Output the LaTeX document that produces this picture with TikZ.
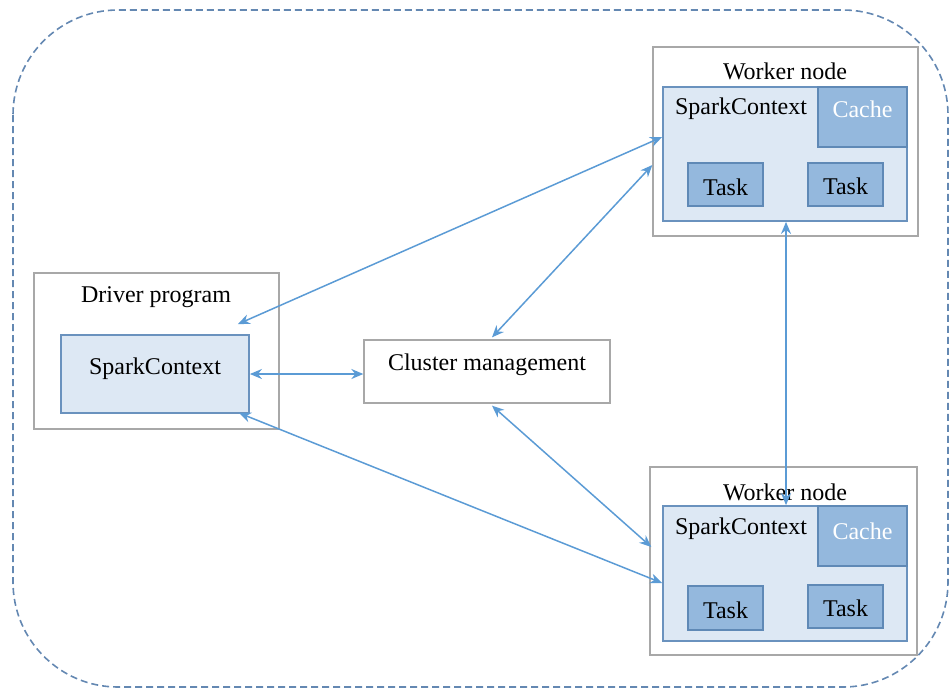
\documentclass[tikz,border=0pt]{standalone}
\usepackage{fontspec}
\setmainfont{Liberation Serif}
\usetikzlibrary{arrows.meta,calc}
\definecolor{arrowblue}{HTML}{5B9BD5}
\definecolor{innerfill}{HTML}{DDE8F4}
\definecolor{innerdraw}{HTML}{6A92BE}
\definecolor{darkfill}{HTML}{94B8DD}
\definecolor{darkdraw}{HTML}{5F89B6}
\definecolor{outerdraw}{HTML}{A8A8A8}
\definecolor{dashdraw}{HTML}{6488B2}
\tikzset{
  outerbox/.style={draw=outerdraw, line width=1.3pt, fill=white, inner sep=0pt},
  innerbox/.style={draw=innerdraw, line width=1.8pt, fill=innerfill, inner sep=0pt},
  darkbox/.style={draw=darkdraw, line width=1.5pt, fill=darkfill, inner sep=0pt},
  txt/.style={font=\fontsize{24}{28}\selectfont, inner sep=0pt, text=black},
  wtxt/.style={font=\fontsize{24}{28}\selectfont, inner sep=0pt, text=white},
  conn/.style={draw=arrowblue, line width=1.5pt, {Stealth[length=12pt,width=10pt]}-{Stealth[length=12pt,width=10pt]}}
}
\begin{document}
\begin{tikzpicture}[x=1pt,y=-1pt]
\useasboundingbox (0,0) rectangle (949,689);
\draw[dashdraw, line width=1.6pt, dash pattern=on 7pt off 4pt, rounded corners=105pt] (13,10) rectangle (948,687);

% Driver
\node[outerbox, minimum width=245pt, minimum height=156pt] (drvOut) at (156.5,351) {};
\node[innerbox, minimum width=188pt, minimum height=78pt] (drvIn) at (155,374) {};
\node[txt] (drvLbl) at (156,297) {Driver program};
\node[txt] (drvSC) at (155,369) {SparkContext};

% Cluster
\node[outerbox, minimum width=246pt, minimum height=63pt] (clu) at (487,371.5) {};
\node[txt] (cluLbl) at (487,365) {Cluster management};

% Worker top
\node[outerbox, minimum width=265pt, minimum height=189pt] (w1Out) at (785.5,141.5) {};
\node[innerbox, minimum width=244pt, minimum height=134pt] (w1In) at (785,154) {};
\node[darkbox, minimum width=89pt, minimum height=60pt] (w1Cache) at (862.5,117) {};
\node[darkbox, minimum width=75pt, minimum height=43pt] (w1T1) at (725.5,184.5) {};
\node[darkbox, minimum width=75pt, minimum height=43pt] (w1T2) at (845.5,184.5) {};
\node[txt] (w1Lbl) at (785,71) {Worker node};
\node[txt] (w1SC) at (741,109) {SparkContext};
\node[wtxt] (w1CacheL) at (862.5,109) {Cache};
\node[txt] (w1T1L) at (725.5,187) {Task};
\node[txt] (w1T2L) at (845.5,186) {Task};

% Worker bottom
\node[outerbox, minimum width=267pt, minimum height=188pt] (w2Out) at (783.5,561) {};
\node[innerbox, minimum width=244pt, minimum height=135pt] (w2In) at (785,573.5) {};
\node[darkbox, minimum width=89pt, minimum height=60pt] (w2Cache) at (862.5,536) {};
\node[darkbox, minimum width=75pt, minimum height=44pt] (w2T1) at (725.5,608) {};
\node[darkbox, minimum width=75pt, minimum height=43pt] (w2T2) at (845.5,606.5) {};
\node[txt] (w2Lbl) at (785,492) {Worker node};
\node[txt] (w2SC) at (741,529) {SparkContext};
\node[wtxt] (w2CacheL) at (862.5,531) {Cache};
\node[txt] (w2T1L) at (725.5,610) {Task};
\node[txt] (w2T2L) at (845.5,608) {Task};

% Connectors
\coordinate (a1s) at ([shift={(-12,-10)}]drvIn.north east);
\coordinate (a1e) at ([shift={(0,-17)}]w1In.west);
\draw[conn] (a1s) -- (a1e);
\draw[conn] (drvIn.east) -- (clu.west |- drvIn.east);
\coordinate (a3s) at ([shift={(-11,-1)}]drvIn.south east);
\coordinate (a3e) at ([shift={(0,9.5)}]w2In.west);
\draw[conn] (a3s) -- (a3e);
\coordinate (a4s) at ([shift={(5,-2)}]clu.north);
\coordinate (a4e) at ([shift={(0,23.5)}]w1Out.west);
\draw[conn] (a4s) -- (a4e);
\coordinate (a5s) at ([shift={(5,2)}]clu.south);
\coordinate (a5e) at ([shift={(2,-14)}]w2Out.west);
\draw[conn] (a5s) -- (a5e);
\coordinate (a6s) at ([xshift=1pt]w1In.south);
\coordinate (a6e) at ([xshift=1pt]w2In.north);
\draw[conn] (a6s) -- (a6e);
\end{tikzpicture}
\end{document}
